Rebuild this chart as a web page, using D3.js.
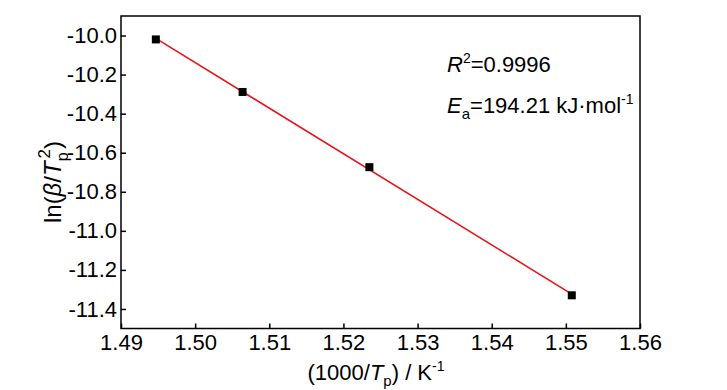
<!DOCTYPE html>
<html lang="en">
<head>
  <meta charset="UTF-8">
  <title>Kissinger plot</title>
  <script src="https://d3js.org/d3.v7.min.js"></script>
  <style>
    body { margin: 0; background: #fff; }
    svg text { font-family: "Liberation Sans", Arial, sans-serif; fill: #000; }
    .axis path, .axis line { stroke: #000; stroke-width: 1.5px; }
    .axis text { font-size: 22px; }
  </style>
</head>
<body>
  <svg id="chart" width="727" height="390"></svg>
  <script>
    // data
    const invTp = [1.4947, 1.5064, 1.5235, 1.5508];
    const lnBeta = [-10.02, -10.289, -10.674, -11.33];
    const xTicks = [1.49, 1.50, 1.51, 1.52, 1.53, 1.54, 1.55, 1.56];
    const yTicks = [-10.0, -10.2, -10.4, -10.6, -10.8, -11.0, -11.2, -11.4];

    const svg = d3.select("#chart");
    const plotL = 121, plotR = 640, plotT = 16, plotB = 328.5;

    const x = d3.scaleLinear().domain([1.49, 1.56]).range([plotL, plotR]);
    const y = d3.scaleLinear().domain([-11.5, -9.9]).range([plotB, plotT]);

    // frame
    svg.append("rect")
      .attr("x", plotL).attr("y", plotT)
      .attr("width", plotR - plotL).attr("height", plotB - plotT)
      .attr("fill", "none").attr("stroke", "#000").attr("stroke-width", 1.5);

    svg.append("g")
      .attr("class", "axis")
      .attr("transform", `translate(0,${plotB})`)
      .call(d3.axisBottom(x).tickValues(xTicks).tickFormat(d => d.toFixed(2))
        .tickSize(-5).tickPadding(6));

    svg.append("g")
      .attr("class", "axis")
      .attr("transform", `translate(${plotL},0)`)
      .call(d3.axisLeft(y).tickValues(yTicks).tickFormat(d => d.toFixed(1))
        .tickSize(-5).tickPadding(4));

    svg.selectAll(".axis .domain").remove();

    // linear fit
    const mx = d3.mean(invTp), my = d3.mean(lnBeta);
    const sxy = d3.sum(invTp, (v, i) => (v - mx) * (lnBeta[i] - my));
    const sxx = d3.sum(invTp, v => (v - mx) * (v - mx));
    const slope = sxy / sxx, icpt = my - slope * mx;
    const ends = d3.extent(invTp);

    svg.append("line")
      .attr("x1", x(ends[0])).attr("y1", y(icpt + slope * ends[0]))
      .attr("x2", x(ends[1])).attr("y2", y(icpt + slope * ends[1]))
      .attr("stroke", "#e8141c").attr("stroke-width", 1.6);

    svg.selectAll(".pt")
      .data(invTp)
      .enter()
      .append("rect")
      .attr("class", "pt")
      .attr("x", (d) => x(d) - 4)
      .attr("y", (d, i) => y(lnBeta[i]) - 4)
      .attr("width", 8).attr("height", 8)
      .attr("fill", "#000");

    // axis titles
    const xt = svg.append("text")
      .attr("x", 376).attr("y", 380)
      .attr("text-anchor", "middle")
      .style("font-size", "22px");
    xt.append("tspan").text("(1000/");
    xt.append("tspan").style("font-style", "italic").text("T");
    xt.append("tspan").attr("dy", 6).style("font-size", "15px").text("p");
    xt.append("tspan").attr("dy", -6).text(") / K");
    xt.append("tspan").attr("dy", -9).style("font-size", "14px").text("-1");

    const yt = svg.append("text")
      .attr("transform", "translate(61,182) rotate(-90)")
      .attr("text-anchor", "middle")
      .style("font-size", "24px");
    yt.append("tspan").text("ln(");
    yt.append("tspan").style("font-style", "italic").text("β");
    yt.append("tspan").text("/");
    yt.append("tspan").style("font-style", "italic").text("T");
    yt.append("tspan").attr("dy", 7).style("font-size", "16px").text("p");
    yt.append("tspan").attr("dx", -6).attr("dy", -18).style("font-size", "17px").text("2");
    yt.append("tspan").attr("dy", 11).text(")");

    // annotations
    const r2 = svg.append("text").attr("x", 447).attr("y", 72).style("font-size", "22px");
    r2.append("tspan").style("font-style", "italic").text("R");
    r2.append("tspan").attr("dy", -9).style("font-size", "14px").text("2");
    r2.append("tspan").attr("dy", 9).text("=0.9996");

    const ea = svg.append("text").attr("x", 447).attr("y", 113).style("font-size", "22px");
    ea.append("tspan").style("font-style", "italic").text("E");
    ea.append("tspan").attr("dy", 6).style("font-size", "15px").text("a");
    ea.append("tspan").attr("dy", -6).text("=194.21 kJ·mol");
    ea.append("tspan").attr("dy", -9).style("font-size", "14px").text("-1");
  </script>
</body>
</html>
